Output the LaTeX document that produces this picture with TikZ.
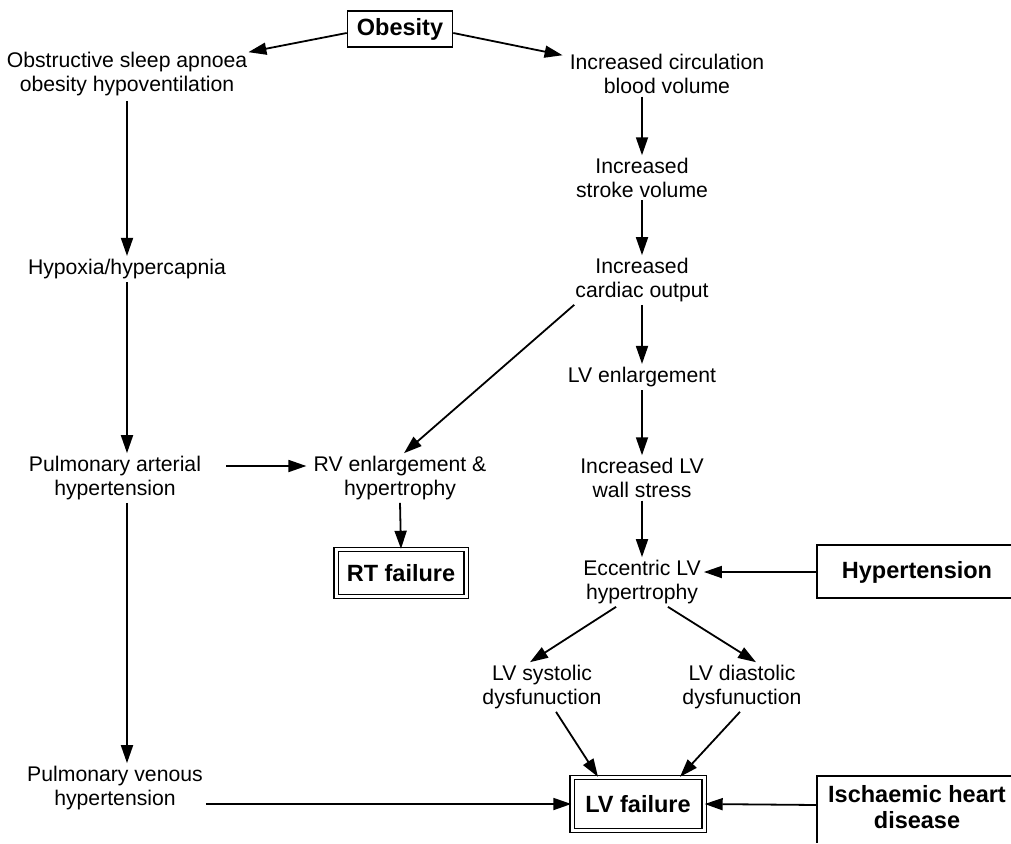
\documentclass[tikz,border=0pt]{standalone}
\usepackage{fontspec}
\setmainfont{Liberation Sans}
\usetikzlibrary{arrows.meta}
\begin{document}
\begin{tikzpicture}[x=1pt,y=-1pt,
  lbl/.style={align=center,font=\fontsize{21.2}{23.5}\selectfont,inner sep=3pt},
  bld/.style={align=center,font=\fontsize{23.5}{26}\selectfont\bfseries,inner sep=3pt},
  box/.style={bld,draw,line width=1.6pt},
  dbox/.style={bld,draw,line width=1.4pt,double=white,double distance=3pt},
  arr/.style={line width=1.8pt,-{Triangle[length=18pt,width=12pt]}},
  ln/.style={line width=1.7pt}]
\useasboundingbox[fill=white] (0,0) rectangle (1011,843);

\node[box,minimum width=105pt,minimum height=36pt] (obesity) at (400,29) {Obesity};
\node[lbl] (osa) at (127,74) {Obstructive sleep apnoea\\obesity hypoventilation};
\node[lbl] (circ) at (667,74) {Increased circulation\\blood volume};
\node[lbl] (stroke) at (642,178) {Increased\\stroke volume};
\node[lbl] (hypox) at (127,269) {Hypoxia/hypercapnia};
\node[lbl] (cardiac) at (642,280) {Increased\\cardiac output};
\node[lbl] (lvenl) at (642,377) {LV enlargement};
\node[lbl] (pah) at (115,478) {Pulmonary arterial\\hypertension};
\node[lbl] (rv) at (400,478) {RV enlargement \&\\hypertrophy};
\node[lbl] (wall) at (642,478) {Increased LV\\wall stress};
\node[dbox,minimum width=130pt,minimum height=47pt] (rt) at (401,573) {RT failure};
\node[lbl] (ecc) at (642,582) {Eccentric LV\\hypertrophy};
\node[bld] (htn) at (917,572) {Hypertension};
\node[lbl] (sys) at (542,687) {LV systolic\\dysfunuction};
\node[lbl] (dia) at (742,687) {LV diastolic\\dysfunuction};
\node[lbl] (pvh) at (115,788) {Pulmonary venous\\hypertension};
\node[dbox,minimum width=132pt,minimum height=53pt] (lvf) at (638,804) {LV failure};
\node[bld] (ihd) at (917,807) {Ischaemic heart\\disease};

% open boxes at right edge
\coordinate (htnL) at (817,572);
\coordinate (ihdL) at (817,805);
\draw[ln] (1011,545) -- (817,545) -- (817,598) -- (1011,598);
\draw[ln] (1011,776) -- (817,776) -- (817,843);

\draw[arr] (obesity.west) ++(0,4) -- ([xshift=-2pt,yshift=-3pt]osa.north east);
\draw[arr] (obesity.east) ++(0,4) -- ([xshift=-4pt,yshift=-4pt]circ.north west);
\draw[arr] (osa.south -| hypox) ++(0,2) -- (hypox.north);
\draw[arr] (hypox.south) -- ([xshift=12pt]pah.north);
\draw[arr] ([xshift=12pt]pah.south) -- ([xshift=12pt]pvh.north);
\draw[arr] (pah.east |- 0,466) ++(22,0) -- ([xshift=-4pt]rv.west |- 0,466);
\draw[arr] (circ.south -| stroke.north) -- (stroke.north);
\draw[arr] (stroke) ++(0,22) -- (cardiac.north);
\draw[arr] (cardiac.south) -- (lvenl.north);
\draw[arr] (cardiac.south west) ++(2,0) -- ([xshift=4pt]rv.north);
\draw[arr] (lvenl.south) -- (wall.north);
\draw[arr] (wall.south) -- (ecc.north);
\draw[arr] (rv.south) -- (rt.north);
\draw[arr] (htnL) -- (ecc.east |- htnL);
\draw[arr] (ecc.south west) ++(36,0) -- ([xshift=-12pt]sys.north);
\draw[arr] (ecc.south east) ++(-36,0) -- ([xshift=14pt]dia.north);
\draw[arr] (sys.south) ++(14,0) -- ([xshift=-40pt]lvf.north);
\draw[arr] (dia.south) ++(-2,0) -- ([xshift=42pt]lvf.north);
\draw[arr] (pvh.east |- lvf) -- (lvf.west);
\draw[arr] (ihdL) -- (lvf.east);
\end{tikzpicture}
\end{document}
